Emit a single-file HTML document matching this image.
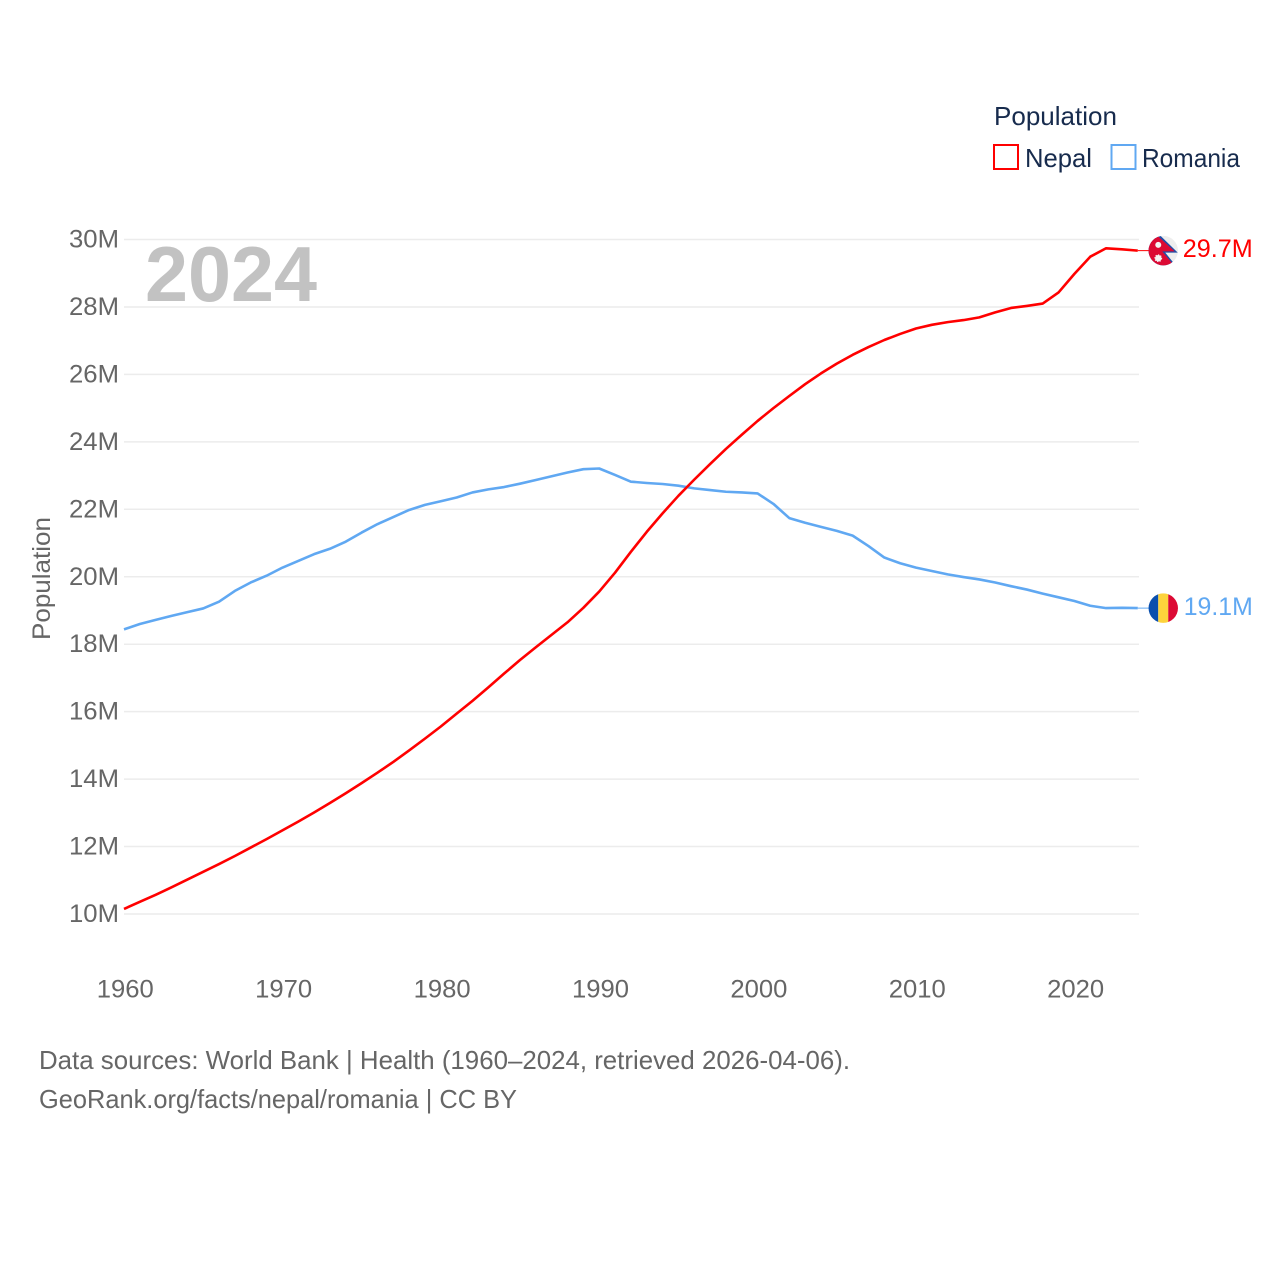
<!DOCTYPE html>
<html lang="en">
<head>
<meta charset="utf-8">
<title>Population: Nepal and Romania</title>
<style>
html,body{margin:0;padding:0;background:#fff;width:1280px;height:1280px;overflow:hidden}
svg{display:block}
text{font-family:"Liberation Sans",sans-serif}
</style>
</head>
<body>
<svg id="chart" xmlns="http://www.w3.org/2000/svg" width="1280" height="1280" viewBox="0 0 1280 1280">
  <defs>
    <clipPath id="nepal-clip"><circle cx="0" cy="0" r="14.7"/></clipPath>
    <clipPath id="romania-clip"><circle cx="0" cy="0" r="14.7"/></clipPath>
  </defs>
  <g id="grid"></g>
  <g id="y-ticks"></g>
  <g id="x-ticks"></g>
  <text x="145" y="301" font-size="78" font-weight="700" fill="#c2c2c2" textLength="172" lengthAdjust="spacingAndGlyphs">2024</text>
  <text transform="translate(50,640) rotate(-90)" font-size="25" fill="#666" textLength="123" lengthAdjust="spacingAndGlyphs">Population</text>
  <g id="series"></g>

  <g id="nepal-flag">
    <g clip-path="url(#nepal-clip)">
      <rect x="-16" y="-16" width="32" height="32" fill="#eeeeee"/>
      <polygon points="-16,-19 -5,-17 14.5,2 2,2 13,15.5 -16,18" fill="#1d4fa8"/>
      <polygon points="-16,-19 -6.5,-15.5 11.5,0.7 -1,0.7 10.5,14.5 -16,18" fill="#dc0a34"/>
      <circle cx="-5" cy="-5.7" r="3" fill="#f4f4f4"/>
      <circle cx="-5" cy="7.6" r="3.2" fill="#f4f4f4" stroke="#f4f4f4" stroke-width="1.4" stroke-dasharray="1.2 1.2"/>
    </g>
  </g>
  <g id="romania-flag">
    <g clip-path="url(#romania-clip)">
      <rect x="-15" y="-15" width="10" height="30" fill="#0a4fae"/>
      <rect x="-5" y="-15" width="10" height="30" fill="#fdd33c"/>
      <rect x="5" y="-15" width="10" height="30" fill="#dc0a34"/>
    </g>
  </g>
  <g id="end-labels"></g>

  <g>
    <text x="994" y="125" font-size="26" fill="#172b4d" textLength="123" lengthAdjust="spacingAndGlyphs">Population</text>
    <g>
      <rect x="994" y="145" width="24" height="24" fill="#fff" stroke="#ff0000" stroke-width="2"/>
      <text x="1025" y="167" font-size="26" fill="#172b4d" textLength="67" lengthAdjust="spacingAndGlyphs">Nepal</text>
    </g>
    <g>
      <rect x="1111.5" y="145" width="24" height="24" fill="#fff" stroke="#60a8f2" stroke-width="2"/>
      <text x="1142" y="167" font-size="26" fill="#172b4d" textLength="98" lengthAdjust="spacingAndGlyphs">Romania</text>
    </g>
  </g>

  <text x="39" y="1069" font-size="26" fill="#666" textLength="811" lengthAdjust="spacingAndGlyphs">Data sources: World Bank | Health (1960–2024, retrieved 2026-04-06).</text>
  <text x="39" y="1108" font-size="26" fill="#666" textLength="478" lengthAdjust="spacingAndGlyphs">GeoRank.org/facts/nepal/romania | CC BY</text>
</svg>
<script>
const years = [1960,1961,1962,1963,1964,1965,1966,1967,1968,1969,1970,1971,1972,1973,1974,1975,1976,1977,1978,1979,1980,1981,1982,1983,1984,1985,1986,1987,1988,1989,1990,1991,1992,1993,1994,1995,1996,1997,1998,1999,2000,2001,2002,2003,2004,2005,2006,2007,2008,2009,2010,2011,2012,2013,2014,2015,2016,2017,2018,2019,2020,2021,2022,2023,2024];
const nepal = [10.15,10.36,10.57,10.79,11.02,11.25,11.48,11.72,11.97,12.22,12.48,12.74,13.01,13.29,13.58,13.88,14.19,14.51,14.85,15.20,15.56,15.94,16.32,16.72,17.13,17.53,17.91,18.28,18.65,19.08,19.56,20.12,20.74,21.33,21.88,22.40,22.88,23.34,23.79,24.21,24.62,25.00,25.36,25.71,26.03,26.32,26.58,26.81,27.02,27.20,27.36,27.47,27.55,27.61,27.69,27.84,27.97,28.03,28.10,28.43,28.98,29.49,29.74,29.71,29.67];
const romania = [18.44,18.60,18.72,18.84,18.95,19.06,19.26,19.58,19.83,20.03,20.27,20.47,20.67,20.83,21.04,21.31,21.56,21.77,21.98,22.13,22.24,22.35,22.50,22.59,22.66,22.76,22.87,22.98,23.09,23.19,23.21,23.02,22.82,22.78,22.75,22.70,22.62,22.57,22.52,22.50,22.47,22.16,21.74,21.60,21.48,21.36,21.22,20.91,20.57,20.40,20.27,20.17,20.07,19.99,19.92,19.83,19.72,19.62,19.50,19.39,19.28,19.14,19.07,19.08,19.07];
const yTickValues = [10,12,14,16,18,20,22,24,26,28,30];
const yTickLabels = ["10M","12M","14M","16M","18M","20M","22M","24M","26M","28M","30M"];
const xTickValues = [1960,1970,1980,1990,2000,2010,2020];
const xTickLabels = ["1960","1970","1980","1990","2000","2010","2020"];
const endLabels = ["29.7M","19.1M"];

const NS = "http://www.w3.org/2000/svg";
function xScale(year){ return 124 + (year - 1960) * 15.84; }
function yScale(value){ return 914 - (value - 10) * 33.725; }
function pathFor(values){
  return values.map(function(v,i){
    return (i ? "L" : "M") + xScale(years[i]).toFixed(2) + " " + yScale(v).toFixed(2);
  }).join(" ");
}

const grid = document.getElementById("grid");
const yTicks = document.getElementById("y-ticks");
const xTicks = document.getElementById("x-ticks");
const series = document.getElementById("series");
const endGroup = document.getElementById("end-labels");

yTickValues.forEach(function(v,i){
  const line = document.createElementNS(NS,"line");
  
  
  line.setAttribute("x1",124);
  line.setAttribute("x2",1139);
  line.setAttribute("y1",yScale(v));
  line.setAttribute("y2",yScale(v));
  line.setAttribute("stroke","#ececec");
  line.setAttribute("stroke-width","1.5");
  grid.appendChild(line);

  const t = document.createElementNS(NS,"text");
  
  
  t.setAttribute("x",69);
  t.setAttribute("y",yScale(v)+8);
  t.setAttribute("font-size","25");
  t.setAttribute("fill","#666");
  t.setAttribute("textLength","50");
  t.setAttribute("lengthAdjust","spacingAndGlyphs");
  t.textContent = yTickLabels[i];
  yTicks.appendChild(t);
});

xTickValues.forEach(function(v,i){
  const t = document.createElementNS(NS,"text");
  
  
  t.setAttribute("x",xScale(v)-27.2);
  t.setAttribute("y",997.5);
  t.setAttribute("font-size","25");
  t.setAttribute("fill","#666");
  t.setAttribute("textLength","57");
  t.setAttribute("lengthAdjust","spacingAndGlyphs");
  t.textContent = xTickLabels[i];
  xTicks.appendChild(t);
});

const romaniaLine = document.createElementNS(NS,"path");


romaniaLine.setAttribute("d",pathFor(romania));
romaniaLine.setAttribute("fill","none");
romaniaLine.setAttribute("stroke","#60a8f2");
romaniaLine.setAttribute("stroke-width","2.6");
romaniaLine.setAttribute("stroke-linejoin","round");
series.appendChild(romaniaLine);

const nepalLine = document.createElementNS(NS,"path");


nepalLine.setAttribute("d",pathFor(nepal));
nepalLine.setAttribute("fill","none");
nepalLine.setAttribute("stroke","#ff0000");
nepalLine.setAttribute("stroke-width","2.6");
nepalLine.setAttribute("stroke-linejoin","round");
series.appendChild(nepalLine);

const lastIndex = years.length - 1;
const endX = xScale(years[lastIndex]);

const nepalLead = document.createElementNS(NS,"line");


nepalLead.setAttribute("x1",endX);
nepalLead.setAttribute("x2",endX+12);
nepalLead.setAttribute("y1",yScale(nepal[lastIndex]));
nepalLead.setAttribute("y2",yScale(nepal[lastIndex]));
nepalLead.setAttribute("stroke","#ff0000");
nepalLead.setAttribute("stroke-width","1");
series.appendChild(nepalLead);

const romaniaLead = document.createElementNS(NS,"line");


romaniaLead.setAttribute("x1",endX);
romaniaLead.setAttribute("x2",endX+12);
romaniaLead.setAttribute("y1",yScale(romania[lastIndex]));
romaniaLead.setAttribute("y2",yScale(romania[lastIndex]));
romaniaLead.setAttribute("stroke","#60a8f2");
romaniaLead.setAttribute("stroke-width","1");
series.appendChild(romaniaLead);

document.getElementById("nepal-flag").setAttribute("transform","translate("+(endX+25.5)+","+yScale(nepal[lastIndex])+")");
document.getElementById("romania-flag").setAttribute("transform","translate("+(endX+25.5)+","+yScale(romania[lastIndex])+")");

const nepalEnd = document.createElementNS(NS,"text");


nepalEnd.setAttribute("x",endX+45);
nepalEnd.setAttribute("y",yScale(nepal[lastIndex])+6.5);
nepalEnd.setAttribute("font-size","25");
nepalEnd.setAttribute("fill","#ff0000");
nepalEnd.setAttribute("textLength","70");
nepalEnd.setAttribute("lengthAdjust","spacingAndGlyphs");
nepalEnd.textContent = endLabels[0];
endGroup.appendChild(nepalEnd);

const romaniaEnd = document.createElementNS(NS,"text");


romaniaEnd.setAttribute("x",endX+46);
romaniaEnd.setAttribute("y",yScale(romania[lastIndex])+7);
romaniaEnd.setAttribute("font-size","25");
romaniaEnd.setAttribute("fill","#60a8f2");
romaniaEnd.setAttribute("textLength","69");
romaniaEnd.setAttribute("lengthAdjust","spacingAndGlyphs");
romaniaEnd.textContent = endLabels[1];
endGroup.appendChild(romaniaEnd);
</script>
</body>
</html>
